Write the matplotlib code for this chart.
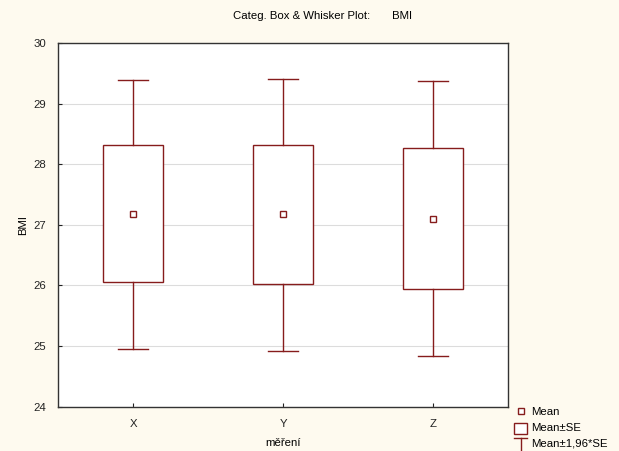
import matplotlib
matplotlib.use("Agg")
import matplotlib.pyplot as plt
from matplotlib.patches import Rectangle
from matplotlib.lines import Line2D

categories = ["X", "Y", "Z"]
means = [27.18, 27.18, 27.10]
se_low = [26.05, 26.02, 25.94]
se_high = [28.31, 28.31, 28.26]
ci_low = [24.96, 24.92, 24.83]
ci_high = [29.39, 29.41, 29.38]
yticks = [24, 25, 26, 27, 28, 29, 30]

RED = "#861c1c"
BG = "#fefaef"
FS = 8.2
plt.rcParams['font.family'] = ['Liberation Sans', 'DejaVu Sans']

fig = plt.figure(figsize=(6.19, 4.51), dpi=100, facecolor=BG)
ax = fig.add_axes([0.0945, 0.0982, 0.7257, 0.8065])
ax.set_facecolor("white")

box_w = 0.4
cap_w = 0.2
lw = 1.0
for i, c in enumerate(categories):
    ax.add_patch(Rectangle((i - box_w / 2, se_low[i]), box_w, se_high[i] - se_low[i],
                           facecolor="white", edgecolor=RED, lw=lw, zorder=3))
    ax.plot([i, i], [se_high[i], ci_high[i]], color=RED, lw=lw, zorder=3)
    ax.plot([i, i], [ci_low[i], se_low[i]], color=RED, lw=lw, zorder=3)
    ax.plot([i - cap_w / 2, i + cap_w / 2], [ci_high[i], ci_high[i]], color=RED, lw=lw, zorder=3)
    ax.plot([i - cap_w / 2, i + cap_w / 2], [ci_low[i], ci_low[i]], color=RED, lw=lw, zorder=3)
ax.plot(range(len(categories)), means, linestyle="none", marker="s", markersize=4.3,
        markerfacecolor="white", markeredgecolor=RED, markeredgewidth=1.0, zorder=4)

ax.set_xlim(-0.5, len(categories) - 0.5)
ax.set_ylim(24, 30)
ax.set_yticks(yticks)
ax.set_xticks(range(len(categories)))
ax.set_xticklabels(categories)
ax.yaxis.grid(True, color="#dcdcdc", lw=0.8)
ax.set_axisbelow(True)
ax.tick_params(direction="in", length=3, width=0.8, labelsize=FS, colors="#222222")
ax.tick_params(axis="y", pad=9)
ax.tick_params(axis="x", pad=9)
for s in ax.spines.values():
    s.set_color("#333333")
    s.set_linewidth(1.0)

ax.set_ylabel("BMI", fontsize=FS, labelpad=4)
ax.set_xlabel("měření", fontsize=FS, labelpad=6)
fig.text(0.521, 0.965, "Categ. Box & Whisker Plot:       BMI", ha="center", va="center", fontsize=FS)

# legend (figure pixel coordinates)
W, H = 619, 451
def fx(px): return px / W
def fy(py): return 1 - py / H
fig.add_artist(Line2D([fx(521)], [fy(411)], marker="s", markersize=4.3, markerfacecolor="white",
                      markeredgecolor=RED, markeredgewidth=1.0, linestyle="none"))
fig.text(fx(531), fy(412), "Mean", fontsize=FS, va="center", ha="left")
fig.add_artist(Rectangle((fx(514), fy(434)), fx(13), 11 / H, transform=fig.transFigure,
                         facecolor="white", edgecolor=RED, lw=1.0))
fig.text(fx(531), fy(428), "Mean±SE", fontsize=FS, va="center", ha="left")
fig.add_artist(Line2D([fx(514), fx(527)], [fy(438), fy(438)], color=RED, lw=1.0))
fig.add_artist(Line2D([fx(520.5), fx(520.5)], [fy(438), fy(451)], color=RED, lw=1.0))
fig.text(fx(531), fy(443), "Mean±1,96*SE", fontsize=FS, va="center", ha="left")

fig.savefig("out.png", dpi=100, facecolor=BG)
